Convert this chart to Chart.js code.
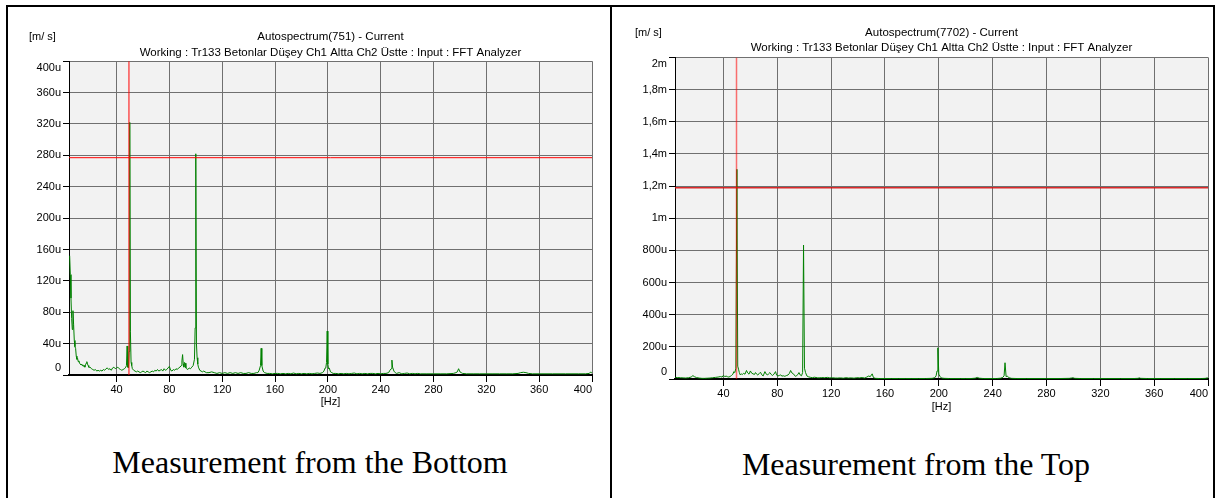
<!DOCTYPE html>
<html><head><meta charset="utf-8">
<script src="https://cdn.jsdelivr.net/npm/chart.js@4.4.1/dist/chart.umd.min.js"></script>
<style>
html,body{margin:0;padding:0;background:#fff;width:1217px;height:498px;overflow:hidden;}
#frame{position:absolute;left:6px;top:5px;width:1209px;height:500px;box-sizing:border-box;border:2px solid #000;border-bottom:none;}
#divider{position:absolute;left:610px;top:5px;width:2px;height:493px;background:#000;}
canvas{position:absolute;}
.cap{position:absolute;font-family:'Liberation Serif','Times New Roman',serif;font-size:32px;line-height:32px;white-space:nowrap;transform:translateX(-50%);color:#000;}
</style></head>
<body>
<div id="frame"></div><div id="divider"></div>
<canvas id="cB" width="600" height="414" style="left:8px;top:6px;width:600px;height:414px"></canvas>
<canvas id="cT" width="600" height="414" style="left:613px;top:6px;width:600px;height:414px"></canvas>
<div class="cap" style="left:310px;top:446px">Measurement from the Bottom</div>
<div class="cap" style="left:916px;top:448px">Measurement from the Top</div>
<script>
// ---- data: [frequency Hz, amplitude in u (micro m/s)] ----
const bottomSpectrum = [[4.5,152],[5,128],[5.5,98],[6,72],[6.5,58],[7,82],[7.5,64],[8,44],[8.5,36],[9,34],[9.5,24],[10,20],[10.5,21],[11,17],[11.5,18],[12,15],[12.5,14],[13,13],[13.5,14],[14,12],[14.5,13],[15,11],[15.5,12],[16,10],[16.5,13],[17,15],[17.5,17],[18,14],[18.5,12],[19,10],[19.5,9],[20,10],[21,8],[22,7],[23,6],[24,7],[25,5],[26,6],[27,5],[28,6],[29,5],[30,7],[31,6],[32,8],[33,9],[34,7],[35,8],[36,6],[37,9],[38,10],[39,8],[40,9],[41,10],[42,8],[43,7],[44,6],[45,7],[46,8],[47,10],[47.5,12],[48,37],[48.5,10],[49,9],[49.5,30],[50,322],[50.5,55],[51,16],[51.5,12],[52,8],[53,6],[54,5],[55,4],[56,5],[57,4],[58,3],[59,4],[60,5],[61,4],[62,3],[63,5],[64,4],[65,3],[66,4],[67,5],[68,4],[69,6],[70,5],[71,7],[72,5],[73,6],[74,7],[75,5],[76,8],[77,6],[78,7],[79,9],[80,11],[81,6],[82,5],[83,7],[84,6],[85,8],[86,7],[87,9],[88,10],[89,12],[89.5,18],[90,26],[90.5,14],[91,10],[91.5,16],[92,15],[92.5,9],[93,8],[94,7],[95,9],[96,8],[97,10],[98,12],[99,20],[99.5,60],[100,282],[100.5,40],[101,22],[101.5,14],[102,10],[103,6],[104,5],[105,4],[106,5],[107,4],[108,3],[110,3],[112,4],[114,3],[116,2],[118,3],[120,2],[122,3],[124,2],[126,3],[128,2],[130,3],[132,2],[134,3],[136,2],[138,2],[140,3],[142,2],[144,2],[146,3],[147,3],[148,6],[149,12],[149.5,34],[150,12],[151,5],[152,3],[154,2],[156,2],[158,1.5],[160,2],[162,2],[164,1.5],[166,2],[168,1.5],[170,2],[172,1.5],[174,2.5],[176,1.5],[178,2],[180,1.5],[182,2],[184,1.5],[186,2],[188,1.5],[190,2],[192,2.5],[194,2],[196,3],[197,5],[198,9],[198.5,10],[199,16],[199.5,56],[200,14],[200.5,8],[201,9],[202,4],[203,3],[204,2],[206,2],[208,1.5],[210,2],[212,1.5],[214,2],[216,1.5],[218,2],[220,2.5],[222,1.5],[224,2],[226,1.5],[228,2],[230,1.5],[232,2],[234,2],[236,1.5],[238,2],[240,1.5],[242,2],[244,2],[246,3],[247,6],[248,8],[248.5,19],[249,10],[250,5],[251,3],[252,2],[254,3],[256,1.5],[258,2],[260,2.5],[262,1.5],[264,2],[266,1.5],[268,2],[270,1.5],[275,1.5],[280,1.5],[285,1.5],[290,1.5],[295,2],[297,3],[298,4],[299,8],[300,4],[301,3],[302,2],[305,1.5],[310,1.5],[315,1.5],[320,1.5],[325,1.5],[330,1.5],[335,1.5],[340,1.5],[344,2],[346,3],[348,3.5],[350,3],[352,2],[355,1.5],[360,1.5],[370,1.5],[380,1.5],[390,1.5],[395,1.5],[398,2],[399,4],[400,2]];

const topSpectrum = [[4.2,10],[6,9],[8,8],[10,7],[12,6],[14,8],[16,12],[17.3,21],[18.5,14],[20,9],[22,6],[24,4],[26,4],[28,5],[30,6],[32,8],[34,10],[36,12],[37.7,15],[39,12],[40,23],[41,15],[42,18],[43,14],[44,12],[45,16],[46,22],[47,30],[47.7,46],[48.5,40],[49.2,67],[50,1304],[50.6,80],[51.2,61],[51.8,40],[52.5,25],[53.3,32],[54,28],[55,35],[56,30],[57.1,53],[58,38],[59,30],[60,50],[61,36],[62,32],[63,28],[63.8,40],[64.7,30],[65.5,25],[66.5,33],[67.5,42],[68.5,26],[69.5,19],[70.8,46],[71.8,30],[72.8,25],[73.5,32],[74.5,40],[75.5,28],[76.5,22],[77.5,30],[78.7,46],[79.5,24],[80.5,19],[81.5,22],[82.5,25],[83.5,18],[84.5,20],[85.5,17],[86.2,19],[87,22],[88,25],[89,35],[89.9,53],[90.8,38],[92,32],[93,20],[93.7,17],[94.5,22],[95.3,28],[96.1,40],[97,25],[98,20],[98.8,40],[99.5,833],[100.2,67],[101,40],[102,19],[103,14],[104.8,10],[106,8],[107.5,11],[109.8,8],[111,7],[113,9],[115,8],[117.3,10],[119,7],[121,8],[123,6],[124.7,6],[127,7],[129,5],[131,8],[133,6],[135,7],[137,5],[139,8],[141,7],[143,9],[145,6],[146.5,12],[148,19],[149,14],[150.5,32],[151.5,8],[153,4],[156,3],[160,3],[165,3],[170,3],[175,3],[180,3],[185,3],[190,3],[195,4],[197,8],[198,20],[198.7,50],[199.3,194],[200,30],[201,15],[202,6],[204,4],[208,3],[212,3],[216,3],[220,3],[224,3],[227,5],[228.6,10],[230,5],[233,3],[238,3],[243,3],[246,5],[247.5,10],[248.5,20],[249.2,101],[250,15],[251,18],[252,8],[254,4],[258,3],[265,3],[270,3],[280,3],[290,3],[297,4],[298.5,6],[299.5,8],[301,4],[305,3],[315,3],[325,3],[335,3],[345,3],[348,4],[349,7],[350,4],[355,3],[365,3],[375,3],[385,3],[395,3],[398,4],[399.5,7],[400,5]];

// cursor readouts [Hz, level u]
const cursorBottom = [49.4, 277];
const cursorTop = [49.7, 1190];

// axes
const xRange = [4, 400];
const xTicks = [40, 80, 120, 160, 200, 240, 280, 320, 360, 400];
const xTickLabels = ['40', '80', '120', '160', '200', '240', '280', '320', '360', '400'];
const yTicksBottom = [0, 40, 80, 120, 160, 200, 240, 280, 320, 360, 400];
const yTickLabelsBottom = ['0', '40u', '80u', '120u', '160u', '200u', '240u', '280u', '320u', '360u', '400u'];
const yTicksTop = [0, 200, 400, 600, 800, 1000, 1200, 1400, 1600, 1800, 2000];
const yTickLabelsTop = ['0', '200u', '400u', '600u', '800u', '1m', '1,2m', '1,4m', '1,6m', '1,8m', '2m'];

const titlesBottom = ['Autospectrum(751) - Current', 'Working : Tr133 Betonlar Düşey Ch1 Altta Ch2 Üstte : Input : FFT Analyzer'];
const titlesTop = ['Autospectrum(7702) - Current', 'Working : Tr133 Betonlar Düşey Ch1 Altta Ch2 Üstte : Input : FFT Analyzer'];
const unitLabel = '[m/ s]';
const xAxisLabel = '[Hz]';

Chart.defaults.font.family = '"Liberation Sans", Arial, sans-serif';
Chart.defaults.font.size = 11;
Chart.defaults.color = '#000';

const panelDecor = {
  id: 'panelDecor',
  beforeDraw(chart) {
    const {ctx, chartArea: a} = chart;
    ctx.save();
    ctx.fillStyle = '#f2f2f2';
    ctx.fillRect(a.left, a.top, a.right - a.left, a.bottom - a.top);
    ctx.restore();
  },
  afterDraw(chart, args, opts) {
    const {ctx, chartArea: a} = chart;
    ctx.save();
    ctx.font = '11px "Liberation Sans", Arial, sans-serif';
    ctx.fillStyle = '#000';
    ctx.textBaseline = 'middle';
    ctx.textAlign = 'left';
    ctx.fillText(opts.unit, a.left - opts.dx, a.top - opts.dy);
    ctx.restore();
  }
};

function makeChart(id, spec) {
  const yMax = spec.yTicks[spec.yTicks.length - 1];
  const yMin = spec.yTicks[0];
  new Chart(document.getElementById(id), {
    type: 'line',
    data: {
      datasets: [
        {
          data: [{x: spec.cursor[0], y: yMin}, {x: spec.cursor[0], y: yMax}],
          borderColor: spec.cursorColor, borderWidth: spec.cursorWidth, pointRadius: 0, order: 0
        },
        {
          data: [{x: xRange[0], y: spec.cursor[1]}, {x: xRange[1], y: spec.cursor[1]}],
          borderColor: spec.cursorHColor, borderWidth: spec.cursorWidth, pointRadius: 0, order: 0
        },
        {
          data: spec.spectrum.map(p => ({x: p[0], y: p[1]})),
          borderColor: '#008000', borderWidth: 1, pointRadius: 0, tension: 0, order: 1
        }
      ]
    },
    options: {
      responsive: false, animation: false, devicePixelRatio: 1,
      layout: {padding: spec.padding},
      plugins: {
        legend: {display: false},
        tooltip: {enabled: false},
        title: {
          display: true, text: spec.titles, fullSize: false, color: '#000',
          font: {size: 11.5, lineHeight: spec.titleLH, weight: 'normal'},
          padding: spec.titlePad
        },
        panelDecor: {unit: unitLabel, dx: 40, dy: 24.2}
      },
      scales: {
        x: {
          type: 'linear', min: xRange[0], max: xRange[1],
          afterBuildTicks: s => { s.ticks = xTicks.map(v => ({value: v})); },
          afterFit: s => { s.height = spec.xHeight; s.paddingLeft = 0; s.paddingRight = 0; },
          ticks: {
            autoSkip: false, maxRotation: 0, padding: spec.xTickPad, color: '#000',
            callback: (v, i, t) => {
              const lbl = xTickLabels[xTicks.indexOf(v)];
              return i === t.length - 1 ? lbl + '\u2007\u2007\u2007' : lbl;
            }
          },
          grid: {color: '#707070', tickColor: '#000', tickLength: 7, lineWidth: 1},
          border: {color: '#000', width: 2},
          title: {display: true, text: xAxisLabel, padding: 0, color: '#000', font: {size: 11}}
        },
        y: {
          type: 'linear', min: yMin, max: yMax,
          afterBuildTicks: s => { s.ticks = spec.yTicks.map(v => ({value: v})); },
          afterFit: s => { s.width = spec.yWidth; s.paddingTop = 0; s.paddingBottom = 0; },
          ticks: {
            autoSkip: false, padding: 2, color: '#000',
            callback: (v, i, t) => {
              const lbl = spec.yLabels[spec.yTicks.indexOf(v)];
              if (i === 0) return [lbl, ''];
              if (i === t.length - 1) return ['', lbl];
              return lbl;
            }
          },
          grid: {color: '#707070', tickColor: '#000', tickLength: 6, lineWidth: 1},
          border: {color: '#000', width: 1}
        }
      }
    },
    plugins: [panelDecor]
  });
}

makeChart('cB', {
  spectrum: bottomSpectrum, cursor: cursorBottom, cursorColor: '#ff0000', cursorHColor: '#ff0000', cursorWidth: 1,
  yTicks: yTicksBottom, yLabels: yTickLabelsBottom, titles: titlesBottom,
  padding: {top: 20, right: 16, bottom: 11, left: 0},
  titleLH: 1.357, titlePad: {top: 3, bottom: 1},
  xHeight: 34, xTickPad: 1, yWidth: 61
});
makeChart('cT', {
  spectrum: topSpectrum, cursor: cursorTop, cursorColor: 'rgba(255,0,0,0.55)', cursorHColor: 'rgba(215,20,20,0.9)', cursorWidth: 1.5,
  yTicks: yTicksTop, yLabels: yTickLabelsTop, titles: titlesTop,
  padding: {top: 17, right: 5, bottom: 6, left: 0},
  titleLH: 1.304, titlePad: {top: 2.8, bottom: 1.6},
  xHeight: 35, xTickPad: 1.5, yWidth: 62
});
</script>
</body></html>
